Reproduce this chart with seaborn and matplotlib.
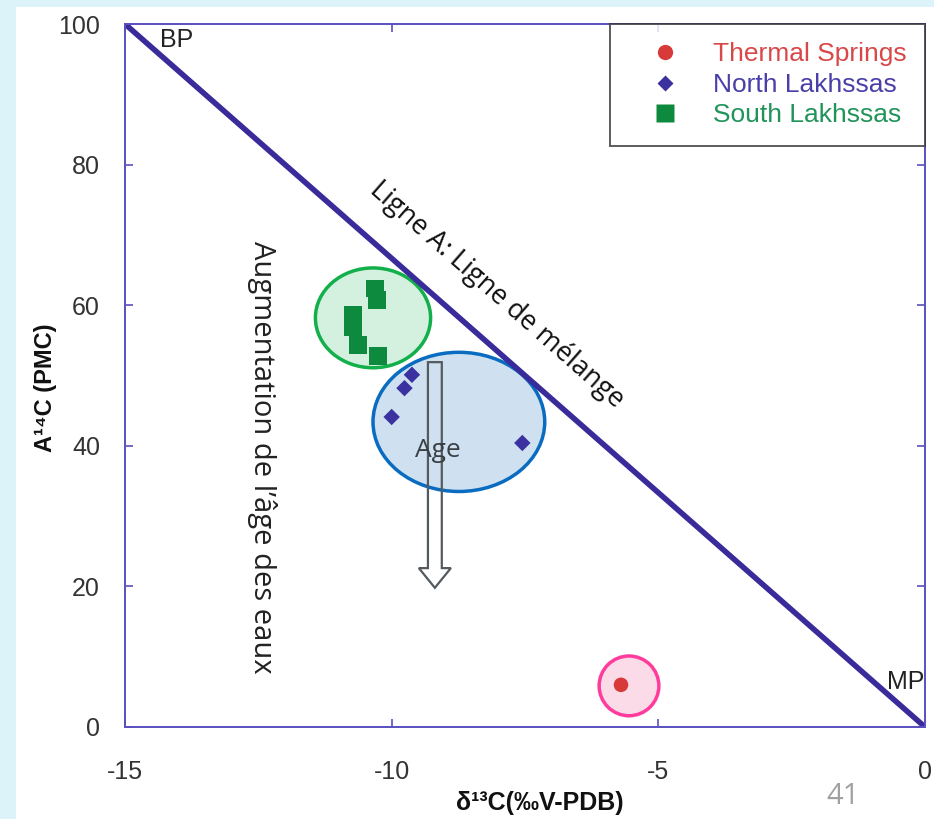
import numpy as np
import pandas as pd
import matplotlib
matplotlib.use("Agg")
import matplotlib.pyplot as plt
from matplotlib.patches import Ellipse, FancyArrow, Rectangle
from matplotlib.lines import Line2D
import seaborn as sns

# --- data -------------------------------------------------------------
thermal_d13c = [-5.70]
thermal_a14c = [6.0]

north_d13c = [-9.62, -9.76, -10.00, -7.55]
north_a14c = [50.1, 48.2, 44.1, 40.4]

south_d13c = [-10.31, -10.27, -10.72, -10.72, -10.63, -10.26]
south_a14c = [62.4, 60.7, 58.6, 56.8, 54.3, 52.8]

groups = ["Thermal Springs", "North Lakhssas", "South Lakhssas"]
group_colors = ["#d83a3a", "#3b32a0", "#0e8a3e"]
group_text_colors = ["#d84848", "#4a3fa8", "#21945a"]

# mixing line end members (BP, MP)
mix_x = [-15, 0]
mix_y = [100, 0]

x_ticks = [-15, -10, -5, 0]
y_ticks = [0, 20, 40, 60, 80, 100]

df = pd.DataFrame({
    "d13c": thermal_d13c + north_d13c + south_d13c,
    "a14c": thermal_a14c + north_a14c + south_a14c,
    "group": [groups[0]] * len(thermal_d13c)
             + [groups[1]] * len(north_d13c)
             + [groups[2]] * len(south_d13c),
})

# --- figure -----------------------------------------------------------
sns.set_theme(style="white")
plt.rcParams["font.family"] = ["Liberation Sans", "DejaVu Sans"]

fig = plt.figure(figsize=(9.34, 8.19), dpi=100, facecolor="#dcf3f9")
fig.patches.append(Rectangle((16 / 934, 0), 1, 1 - 7 / 819, transform=fig.transFigure,
                             facecolor="white", edgecolor="none", zorder=-5))
ax = fig.add_axes([125 / 934, 1 - 727 / 819, 800 / 934, 703 / 819])
ax.set_facecolor("white")

spine_col = "#5a50c0"
for s in ax.spines.values():
    s.set_color(spine_col)
    s.set_linewidth(1.4)

# highlight zones
ax.add_patch(Ellipse((-10.35, 58.2), 2.16, 14.2, facecolor="#d4f0df",
                     edgecolor="#12b04a", lw=2.5, zorder=1))
ax.add_patch(Ellipse((-8.74, 43.4), 3.22, 19.8, facecolor="#cfe1f1",
                     edgecolor="#0a6cc0", lw=2.5, zorder=1))
ax.add_patch(Ellipse((-5.55, 5.85), 1.12, 8.5, facecolor="#fbdbe8",
                     edgecolor="#ff3c9c", lw=2.5, zorder=1))

# mixing line
sns.lineplot(x=mix_x, y=mix_y, ax=ax, color="#3a2b9a", lw=4.0, zorder=2)

# samples
sns.scatterplot(data=df, x="d13c", y="a14c", hue="group", style="group",
                hue_order=groups, style_order=groups,
                palette=dict(zip(groups, group_colors)),
                markers={groups[0]: "o", groups[1]: "D", groups[2]: "s"},
                size="group", sizes={groups[0]: 110, groups[1]: 70, groups[2]: 160},
                edgecolor="none", linewidth=0, ax=ax, zorder=3, legend=False)

# age arrow
ax.add_patch(FancyArrow(-9.19, 51.9, 0, -32.1, width=0.26, head_width=0.6,
                        head_length=2.8, length_includes_head=True,
                        facecolor="none", edgecolor="#555a5e", lw=1.6, zorder=4))

# annotations
ax.text(-14.34, 97.7, "BP", fontsize=18, color="#222222", ha="left", va="center", zorder=5)
ax.text(-0.02, 6.4, "MP", fontsize=18, color="#222222", ha="right", va="center", zorder=5)
ax.text(-8.03, 61.5, "Ligne A: Ligne de mélange", fontsize=19.5, family="Open Sans",
        color="#111111", rotation=-41.3, rotation_mode="anchor", ha="center", va="center", zorder=5)
ax.text(-9.14, 39.4, "Age", fontsize=19, family="Open Sans", color="#3a3f44",
        ha="center", va="center", zorder=5)
ax.text(-12.43, 38.3, "Augmentation de l\u2019\u00e2ge des eaux", fontsize=21,
        family="Open Sans", color="#222222", rotation=-90, ha="center", va="center", zorder=5)

# axes
ax.set_xlim(-15, 0)
ax.set_ylim(0, 100)
ax.set_xticks(x_ticks)
ax.set_yticks(y_ticks)
ax.set_xticklabels([str(t) for t in x_ticks])
ax.set_yticklabels([str(t) for t in y_ticks])
ax.tick_params(axis="both", direction="in", length=6, width=1.2, color="#5a50c0",
               labelsize=18, labelcolor="#333333", top=True, right=True,
               bottom=True, left=True)
ax.tick_params(axis="x", pad=24)
ax.tick_params(axis="y", pad=18)
ax.set_xlabel("\u03b4\u00b9\u00b3C(\u2030V-PDB)", fontsize=18, fontweight="bold",
              color="#111111")
ax.xaxis.set_label_coords(0.519, -0.091)
ax.set_ylabel("A\u00b9\u2074C (PMC)", fontsize=17, fontweight="bold", color="#111111")
ax.yaxis.set_label_coords(-0.085, 0.482)

# legend
handles = [
    Line2D([], [], ls="none", marker="o", ms=11, color=group_colors[0], mec="none"),
    Line2D([], [], ls="none", marker="D", ms=8, color=group_colors[1], mec="none"),
    Line2D([], [], ls="none", marker="s", ms=13, color=group_colors[2], mec="none"),
]
leg = ax.legend(handles, groups, loc="upper right", bbox_to_anchor=(1.0, 1.0),
                fontsize=19, frameon=True, fancybox=False, borderpad=0.7,
                handletextpad=0.45, labelspacing=0.24, borderaxespad=0,
                handlelength=2.75)
leg.get_frame().set_edgecolor("#333333")
leg.get_frame().set_linewidth(1.4)
for t, c in zip(leg.get_texts(), group_text_colors):
    t.set_color(c)

fig.text(843 / 934, 1 - 797 / 819, "41", fontsize=21, family="Open Sans",
         color="#a0a0a0", ha="center", va="center")

fig.savefig("out.png", dpi=100, facecolor=fig.get_facecolor())
